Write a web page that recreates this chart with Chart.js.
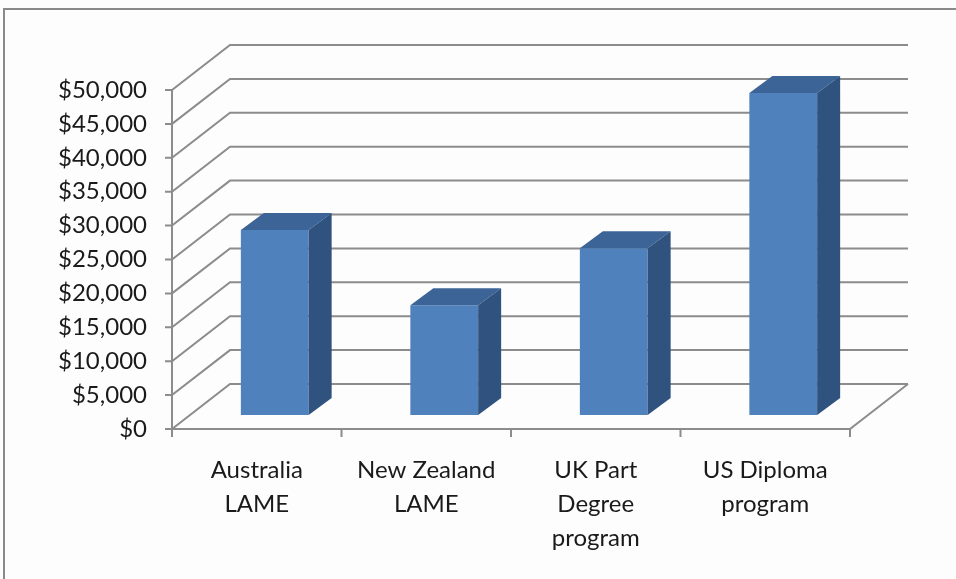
<!DOCTYPE html>
<html lang="en">
<head>
<meta charset="UTF-8">
<title>Program Cost Comparison</title>
<script src="https://cdn.jsdelivr.net/npm/chart.js"></script>
<style>
  body { margin: 0; background: #fdfdfd; }
  canvas { display: block; }
</style>
</head>
<body>
<canvas id="chart" width="956" height="579"></canvas>
<script>
const programs = [['Australia', 'LAME'], ['New Zealand', 'LAME'], ['UK Part', 'Degree', 'program'], ['US Diploma', 'program']];
const costs = [27300, 16200, 24600, 47500];
const yMax = 50000;
const yStep = 5000;

// oblique offsets used for the 3D walls and boxes
const wall = { dx: 58, dy: -45 };
const barShift = { dx: 18, dy: -14 };
const depth = { dx: 23, dy: -17 };

const gridColor = '#8c8c8c';
const frontColor = '#4f81bd';
const sideColor = '#30527f';
const topColor = '#3c6497';
const labelFont = { family: 'Lato', size: 24 };

const walls = {
  id: 'walls',
  beforeDraw(chart) {
    const ctx = chart.ctx;
    ctx.save();
    ctx.strokeStyle = '#8a8a8a';
    ctx.lineWidth = 2;
    ctx.beginPath();
    ctx.moveTo(4, 600);
    ctx.lineTo(4, 9);
    ctx.lineTo(960, 9);
    ctx.stroke();
    ctx.restore();
  },
  beforeDatasetsDraw(chart) {
    const { ctx, scales: { x, y } } = chart;
    const left = x.left, right = x.right, bottom = y.bottom;
    ctx.save();
    ctx.strokeStyle = gridColor;
    ctx.lineWidth = 2;
    ctx.beginPath();
    y.ticks.forEach(t => {
      const py = y.getPixelForValue(t.value);
      ctx.moveTo(left - 7, py);
      ctx.lineTo(left, py);
      ctx.lineTo(left + wall.dx, py + wall.dy);
      ctx.lineTo(right + wall.dx, py + wall.dy);
    });
    ctx.moveTo(left, y.top);
    ctx.lineTo(left, bottom + 8);
    // floor edge
    ctx.moveTo(left, bottom);
    ctx.lineTo(right, bottom);
    ctx.lineTo(right + wall.dx, bottom + wall.dy);
    // category ticks
    for (let i = 0; i <= programs.length; i++) {
      const px = left + (right - left) * i / programs.length;
      ctx.moveTo(px, bottom);
      ctx.lineTo(px, bottom + 8);
    }
    ctx.stroke();
    ctx.restore();
  },
  beforeDatasetDraw(chart) {
    chart.ctx.save();
    chart.ctx.translate(barShift.dx, barShift.dy);
  },
  afterDatasetDraw(chart, args) {
    const ctx = chart.ctx;
    args.meta.data.forEach(bar => {
      const { x, y, width, base } = bar.getProps(['x', 'y', 'width', 'base'], true);
      const l = x - width / 2, r = x + width / 2;
      ctx.fillStyle = topColor;
      ctx.beginPath();
      ctx.moveTo(l, y);
      ctx.lineTo(l + depth.dx, y + depth.dy);
      ctx.lineTo(r + depth.dx, y + depth.dy);
      ctx.lineTo(r, y);
      ctx.closePath();
      ctx.fill();
      ctx.fillStyle = sideColor;
      ctx.beginPath();
      ctx.moveTo(r, y);
      ctx.lineTo(r + depth.dx, y + depth.dy);
      ctx.lineTo(r + depth.dx, base + depth.dy);
      ctx.lineTo(r, base);
      ctx.closePath();
      ctx.fill();
    });
    ctx.restore();
  }
};

new Chart(document.getElementById('chart'), {
  type: 'bar',
  data: {
    labels: programs,
    datasets: [{
      data: costs,
      backgroundColor: frontColor,
      borderWidth: 0,
      barPercentage: 0.4,
      categoryPercentage: 1,
      clip: false
    }]
  },
  options: {
    responsive: false,
    animation: false,
    layout: { padding: { left: 0, top: 90, right: 106, bottom: 10 } },
    plugins: { legend: { display: false }, tooltip: { enabled: false } },
    scales: {
      x: {
        grid: { display: false, drawTicks: false },
        border: { display: false },
        ticks: { font: { ...labelFont, lineHeight: 1.42 }, color: '#1a1a1a', padding: 24, maxRotation: 0 },
        afterFit(s) { s.height = 140; }
      },
      y: {
        min: 0,
        max: yMax,
        grid: { display: false, drawTicks: false },
        border: { display: false },
        ticks: {
          stepSize: yStep,
          font: labelFont,
          color: '#1a1a1a',
          padding: 25,
          callback: v => '$' + v.toLocaleString('en-US')
        },
        afterFit(s) { s.width = 172; }
      }
    }
  },
  plugins: [walls]
});
</script>
</body>
</html>
